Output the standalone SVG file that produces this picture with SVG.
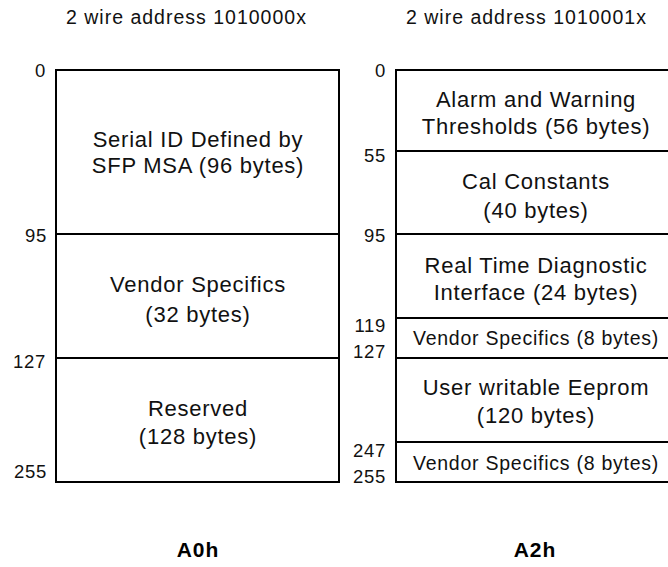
<svg xmlns="http://www.w3.org/2000/svg" width="668" height="567" viewBox="0 0 668 567">
<style>
.box{fill:#fff;stroke:#000;stroke-width:2}
.t{font-family:"Liberation Sans",Arial,Helvetica,sans-serif;fill:#111;text-anchor:middle;font-size:22px;letter-spacing:0.75px}
.s{font-size:19.5px}
.n{font-family:"Liberation Sans",Arial,Helvetica,sans-serif;fill:#111;text-anchor:end;font-size:18.5px;letter-spacing:0.7px}
.h{font-family:"Liberation Sans",Arial,Helvetica,sans-serif;fill:#111;font-size:19.5px;letter-spacing:1px}
.b{font-family:"Liberation Sans",Arial,Helvetica,sans-serif;fill:#000;text-anchor:middle;font-size:21px;font-weight:bold;letter-spacing:1px}
</style>
<rect width="668" height="567" fill="#fff"/>
<g id="headers">
<text class="h" x="66" y="24">2 wire address 1010000x</text>
<text class="h" x="406" y="24">2 wire address 1010001x</text>
</g>
<g id="a0-serial-id">
<rect class="box" x="56" y="70" width="283" height="164"/>
<text class="t" x="198" y="147">Serial ID Defined by</text>
<text class="t" x="198" y="173">SFP MSA (96 bytes)</text>
</g>
<g id="a0-vendor">
<rect class="box" x="56" y="234" width="283" height="124"/>
<text class="t" x="198" y="292">Vendor Specifics</text>
<text class="t" x="198" y="322">(32 bytes)</text>
</g>
<g id="a0-reserved">
<rect class="box" x="56" y="358" width="283" height="124"/>
<text class="t" x="198" y="416">Reserved</text>
<text class="t" x="198" y="444">(128 bytes)</text>
</g>
<g id="a2-alarm">
<rect class="box" x="396" y="70" width="283" height="81"/>
<text class="t" x="536" y="107">Alarm and Warning</text>
<text class="t" x="536" y="134">Thresholds (56 bytes)</text>
</g>
<g id="a2-cal">
<rect class="box" x="396" y="151" width="283" height="83"/>
<text class="t" x="536" y="189">Cal Constants</text>
<text class="t" x="536" y="218">(40 bytes)</text>
</g>
<g id="a2-diag">
<rect class="box" x="396" y="234" width="283" height="84"/>
<text class="t" x="536" y="273">Real Time Diagnostic</text>
<text class="t" x="536" y="300">Interface (24 bytes)</text>
</g>
<g id="a2-vendor1">
<rect class="box" x="396" y="318" width="283" height="40"/>
<text class="t s" x="536" y="345">Vendor Specifics (8 bytes)</text>
</g>
<g id="a2-user">
<rect class="box" x="396" y="358" width="283" height="84"/>
<text class="t" x="536" y="395">User writable Eeprom</text>
<text class="t" x="536" y="423">(120 bytes)</text>
</g>
<g id="a2-vendor2">
<rect class="box" x="396" y="442" width="283" height="40"/>
<text class="t s" x="536" y="470">Vendor Specifics (8 bytes)</text>
</g>
<g id="offsets-a0">
<text class="n" x="46" y="77">0</text>
<text class="n" x="47" y="242">95</text>
<text class="n" x="46" y="368">127</text>
<text class="n" x="47" y="478">255</text>
</g>
<g id="offsets-a2">
<text class="n" x="386" y="77">0</text>
<text class="n" x="386" y="162">55</text>
<text class="n" x="386" y="242">95</text>
<text class="n" x="386" y="332">119</text>
<text class="n" x="386" y="358">127</text>
<text class="n" x="386" y="457">247</text>
<text class="n" x="386" y="483">255</text>
</g>
<g id="titles">
<text class="b" x="198" y="557">A0h</text>
<text class="b" x="535" y="557">A2h</text>
</g>
<g id="connectors"/>
</svg>
